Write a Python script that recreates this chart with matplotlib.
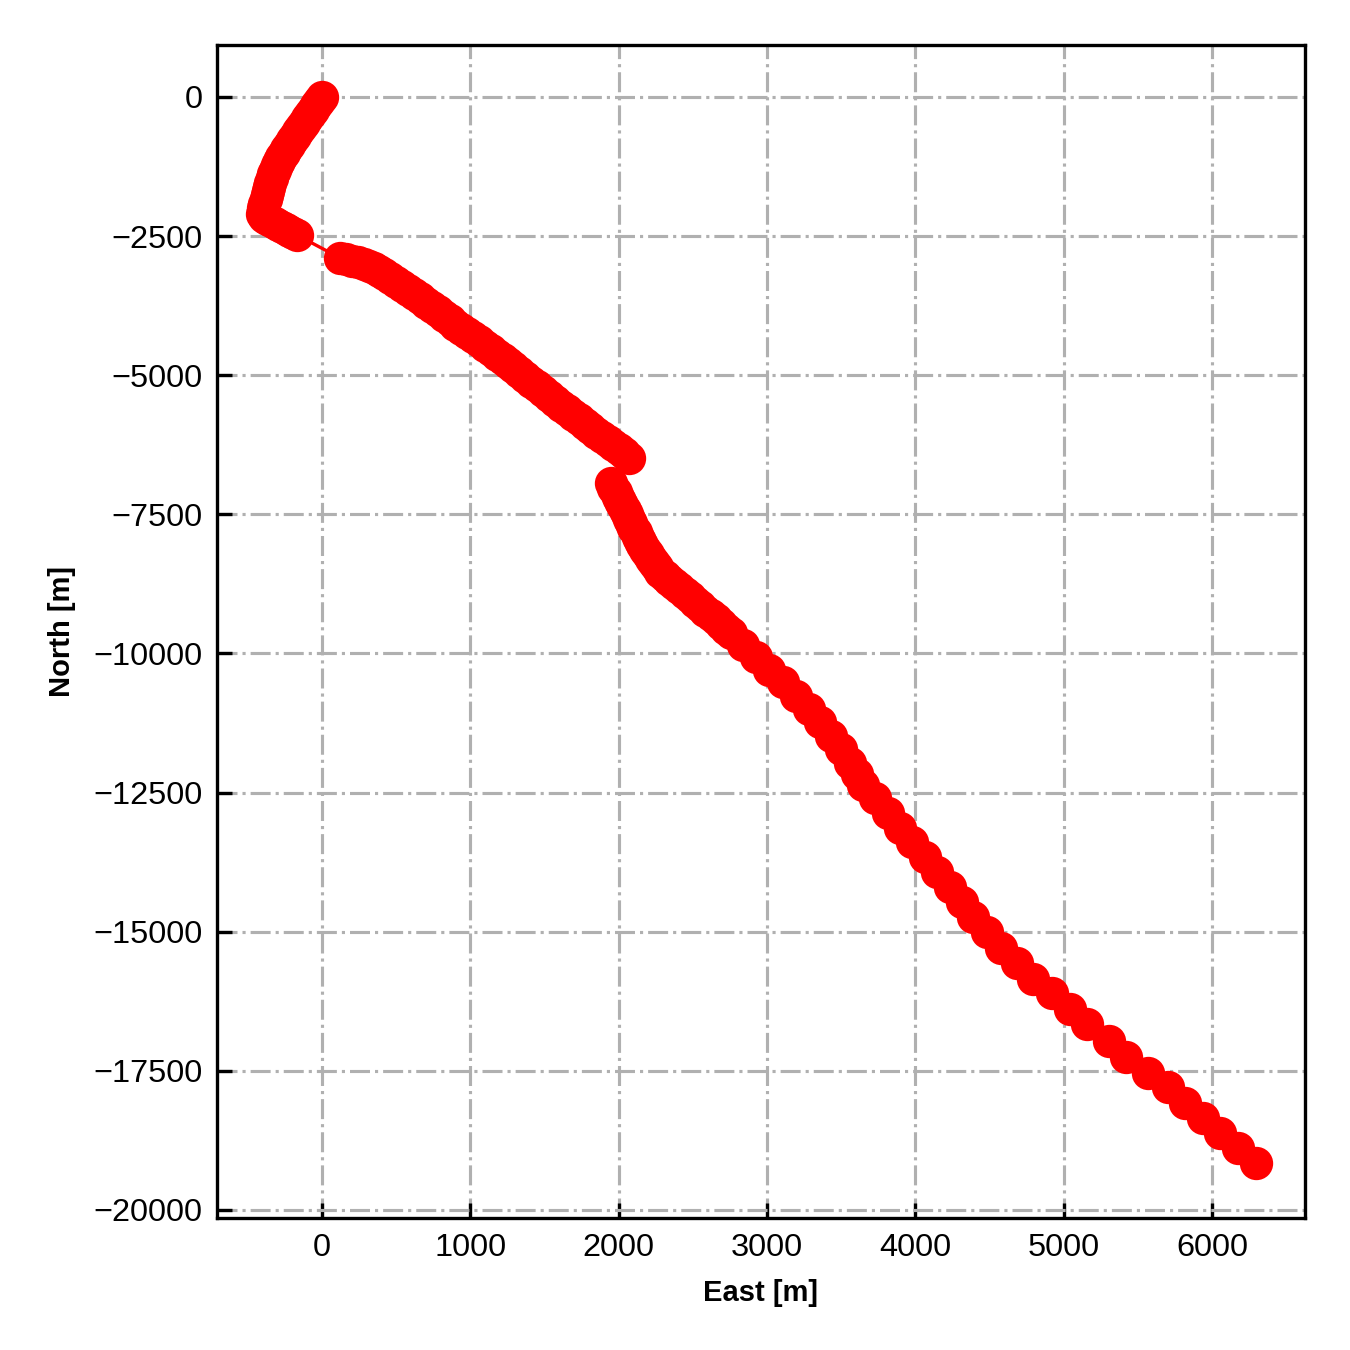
import matplotlib
matplotlib.use('Agg')
from matplotlib import pyplot as pl

pl.rcParams['font.family'] = ['Liberation Sans', 'DejaVu Sans']

# first leg: start, heading south-west then turning south-east
east_a = [0, -20, -40, -60, -80, -100, -120, -140, -160, -180, -200, -220,
          -240, -258, -275, -290, -305, -318, -330, -340, -350, -358, -365,
          -372, -380, -388, -395, -400, -405, -390, -370, -345, -320, -295,
          -270, -245, -220, -195, -170]
north_a = [0, -75, -150, -230, -310, -385, -460, -540, -620, -700, -780,
           -855, -930, -1005, -1080, -1155, -1230, -1310, -1390, -1465,
           -1540, -1615, -1690, -1765, -1840, -1915, -1990, -2050, -2110,
           -2160, -2200, -2235, -2270, -2305, -2340, -2375, -2410, -2445,
           -2480]

# second leg
east_b = [120, 160, 200, 240, 280, 315, 350, 385, 420, 460, 500, 540, 580,
          620, 660, 700, 740, 780, 820, 860, 900, 940, 980, 1020, 1060, 1100,
          1140, 1180, 1220, 1255, 1290, 1330, 1370, 1410, 1450, 1490, 1530,
          1570, 1610, 1650, 1690, 1730, 1770, 1810, 1850, 1890, 1930, 1965,
          2000, 2035, 2070]
north_b = [-2890, -2920, -2950, -2975, -3000, -3035, -3080, -3135, -3190,
           -3260, -3330, -3400, -3470, -3545, -3620, -3700, -3780, -3855,
           -3930, -4015, -4100, -4175, -4250, -4320, -4390, -4470, -4550,
           -4630, -4710, -4785, -4860, -4945, -5030, -5115, -5200, -5290,
           -5380, -5465, -5550, -5630, -5710, -5790, -5870, -5950, -6030,
           -6105, -6180, -6250, -6320, -6405, -6490]

# third leg
east_c = [1950, 1965, 1980, 1995, 2010, 2025, 2040, 2055, 2070, 2085, 2100,
          2115, 2130, 2145, 2160, 2178, 2195, 2215, 2235, 2258, 2280, 2310,
          2340, 2375, 2410, 2445, 2480, 2515, 2550, 2585, 2620, 2655, 2690,
          2725, 2760, 2840, 2925, 3016, 3109, 3195, 3281, 3360, 3433, 3498,
          3558, 3605, 3647, 3728, 3816, 3897, 3978, 4065, 4146, 4234, 4315,
          4389, 4483, 4578, 4686, 4793, 4921, 5043, 5157, 5306, 5420, 5569,
          5703, 5818, 5939, 6054, 6173, 6297]
north_c = [-6940, -7020, -7100, -7180, -7260, -7340, -7420, -7500, -7580,
           -7660, -7740, -7820, -7900, -7980, -8060, -8140, -8220, -8300,
           -8380, -8455, -8530, -8605, -8680, -8755, -8830, -8910, -8990,
           -9070, -9150, -9230, -9310, -9390, -9470, -9555, -9640, -9850,
           -10060, -10290, -10520, -10760, -11000, -11240, -11480, -11720,
           -11960, -12170, -12363, -12597, -12866, -13136, -13387, -13657,
           -13926, -14196, -14465, -14735, -15004, -15292, -15562, -15849,
           -16101, -16388, -16658, -16963, -17251, -17538, -17790, -18077,
           -18347, -18616, -18891, -19156]

east = east_a + east_b + east_c
north = north_a + north_b + north_c

fig = pl.figure(figsize=(4.5, 4.5), dpi=300)
ax = fig.add_axes([0.1607, 0.0978, 0.806, 0.8689])

ax.plot(east, north, color='red', linestyle='-', linewidth=0.8,
        marker='o', markersize=7)

ax.set_xticks([0, 1000, 2000, 3000, 4000, 5000, 6000])
ax.set_yticks([0, -2500, -5000, -7500, -10000, -12500, -15000, -17500,
               -20000])
ax.set_ylim(-20144, 934)
ax.set_xlim(-708, 6627)

ax.grid(True, linestyle='-.', color='#b0b0b0', linewidth=0.75)
ax.set_axisbelow(True)
ax.tick_params(direction='in', length=3.5, width=0.8, labelsize=7.8)
for spine in ax.spines.values():
    spine.set_linewidth(0.8)

ax.set_xlabel('East [m]', fontsize=7, fontweight='bold')
ax.set_ylabel('North [m]', fontsize=7, fontweight='bold')

fig.savefig('out.png', dpi=300)
